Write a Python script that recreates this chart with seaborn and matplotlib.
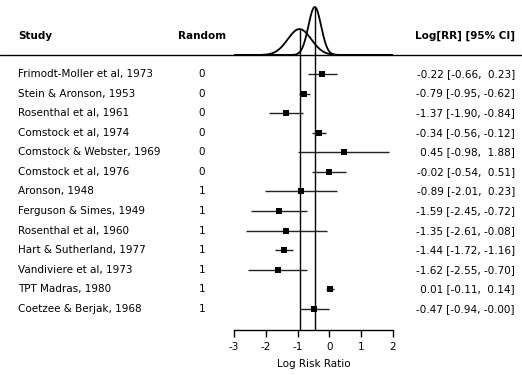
import numpy as np
import pandas as pd
import matplotlib
matplotlib.use("Agg")
import matplotlib.pyplot as plt
import matplotlib.transforms as mtransforms
import seaborn as sns

# ---------------------------
# data
# ---------------------------
studies = [
    "Frimodt-Moller et al, 1973", "Stein & Aronson, 1953", "Rosenthal et al, 1961",
    "Comstock et al, 1974", "Comstock & Webster, 1969", "Comstock et al, 1976",
    "Aronson, 1948", "Ferguson & Simes, 1949", "Rosenthal et al, 1960",
    "Hart & Sutherland, 1977", "Vandiviere et al, 1973", "TPT Madras, 1980",
    "Coetzee & Berjak, 1968",
]
random_alloc = [0, 0, 0, 0, 0, 0, 1, 1, 1, 1, 1, 1, 1]
log_rr = [-0.22, -0.79, -1.37, -0.34, 0.45, -0.02, -0.89, -1.59, -1.35, -1.44, -1.62, 0.01, -0.47]
ci_low = [-0.66, -0.95, -1.90, -0.56, -0.98, -0.54, -2.01, -2.45, -2.61, -1.72, -2.55, -0.11, -0.94]
ci_high = [0.23, -0.62, -0.84, -0.12, 1.88, 0.51, 0.23, -0.72, -0.08, -1.16, -0.70, 0.14, -0.00]

# pooled estimate per allocation group (mean, standard error)
group_mean = [-0.46, -0.94]
group_se = [0.20, 0.37]

x_ticks = [-3, -2, -1, 0, 1, 2]

df = pd.DataFrame({
    "Study": studies, "Random": random_alloc, "LogRR": log_rr,
    "Low": ci_low, "High": ci_high,
})
df["row"] = np.arange(len(df))

sns.set_style("white")
plt.rcParams["font.family"] = ["DejaVu Sans"]
plt.rcParams["text.color"] = "black"
plt.rcParams["xtick.color"] = "black"
plt.rcParams["axes.labelcolor"] = "black"
plt.rcParams["axes.edgecolor"] = "black"
plt.rcParams["axes.unicode_minus"] = False

W, H = 522, 375
fig = plt.figure(figsize=(W / 100, H / 100), dpi=100)

def px_box(x0, y0, x1, y1):
    # pixel box (top-left origin) -> figure fraction rect
    return [x0 / W, 1 - y1 / H, (x1 - x0) / W, (y1 - y0) / H]

# forest axes
ax = fig.add_axes(px_box(234, 55, 393, 330))
row_px0, row_step = 74, 19.58
ax.set_ylim((330 - row_px0) / row_step, (55 - row_px0) / row_step)
ax.set_xlim(-3, 2)

ax.hlines(df["row"], df["Low"], df["High"], color="#222222", lw=1.0, clip_on=False)
sns.scatterplot(data=df, x="LogRR", y="row", marker="s", s=22, color="black",
                edgecolor="black", linewidth=0, ax=ax, legend=False, clip_on=False, zorder=3)
for m in group_mean:
    ax.axvline(m, color="black", lw=1.0, zorder=1)

for side in ["top", "right", "left"]:
    ax.spines[side].set_visible(False)
ax.spines["bottom"].set_linewidth(1.0)
ax.set_xticks(x_ticks)
ax.set_xticklabels([str(t) for t in x_ticks], fontsize=7.5)
ax.tick_params(axis="x", direction="out", length=5, width=1.0, pad=4, bottom=True, colors="black")
ax.set_yticks([])
ax.set_xlabel("Log Risk Ratio", fontsize=7.5, labelpad=5)
ax.set_ylabel("")

# density axes at top
dax = fig.add_axes(px_box(234, 0, 393, 55))
xs = np.linspace(-3, 2, 400)
peaks = []
for m, se in zip(group_mean, group_se):
    dens = np.exp(-0.5 * ((xs - m) / se) ** 2) / (se * np.sqrt(2 * np.pi))
    sns.lineplot(x=xs, y=dens, color="black", lw=1.3, ax=dax)
    pk = 1 / (se * np.sqrt(2 * np.pi))
    peaks.append(pk)
    dax.vlines(m, 0, pk, color="black", lw=1.0)
dax.set_xlim(-3, 2)
dax.set_ylim(0, max(peaks) * 55 / 48)
dax.axis("off")

# header line across the whole figure
fig.add_artist(plt.Line2D([0, 1], [1 - 55 / H, 1 - 55 / H], color="black", lw=1.0,
                          transform=fig.transFigure))

trans = mtransforms.blended_transform_factory(fig.transFigure, ax.transData)
fs = 7.5
for _, r in df.iterrows():
    ax.text(18 / W, r["row"], r["Study"], transform=trans, ha="left", va="center", fontsize=fs)
    ax.text(202 / W, r["row"], str(r["Random"]), transform=trans, ha="center", va="center", fontsize=fs)
    txt = f"{r['LogRR']:5.2f} [{r['Low']:5.2f}, {r['High']:5.2f}]"
    ax.text(515 / W, r["row"], txt, transform=trans, ha="right", va="center", fontsize=fs)

hy = 1 - 36 / H
fig.text(18 / W, hy, "Study", ha="left", va="center", fontsize=fs, fontweight="bold")
fig.text(202 / W, hy, "Random", ha="center", va="center", fontsize=fs, fontweight="bold")
fig.text(515 / W, hy, "Log[RR] [95% CI]", ha="right", va="center", fontsize=fs, fontweight="bold")

fig.savefig("out.png", dpi=100)
